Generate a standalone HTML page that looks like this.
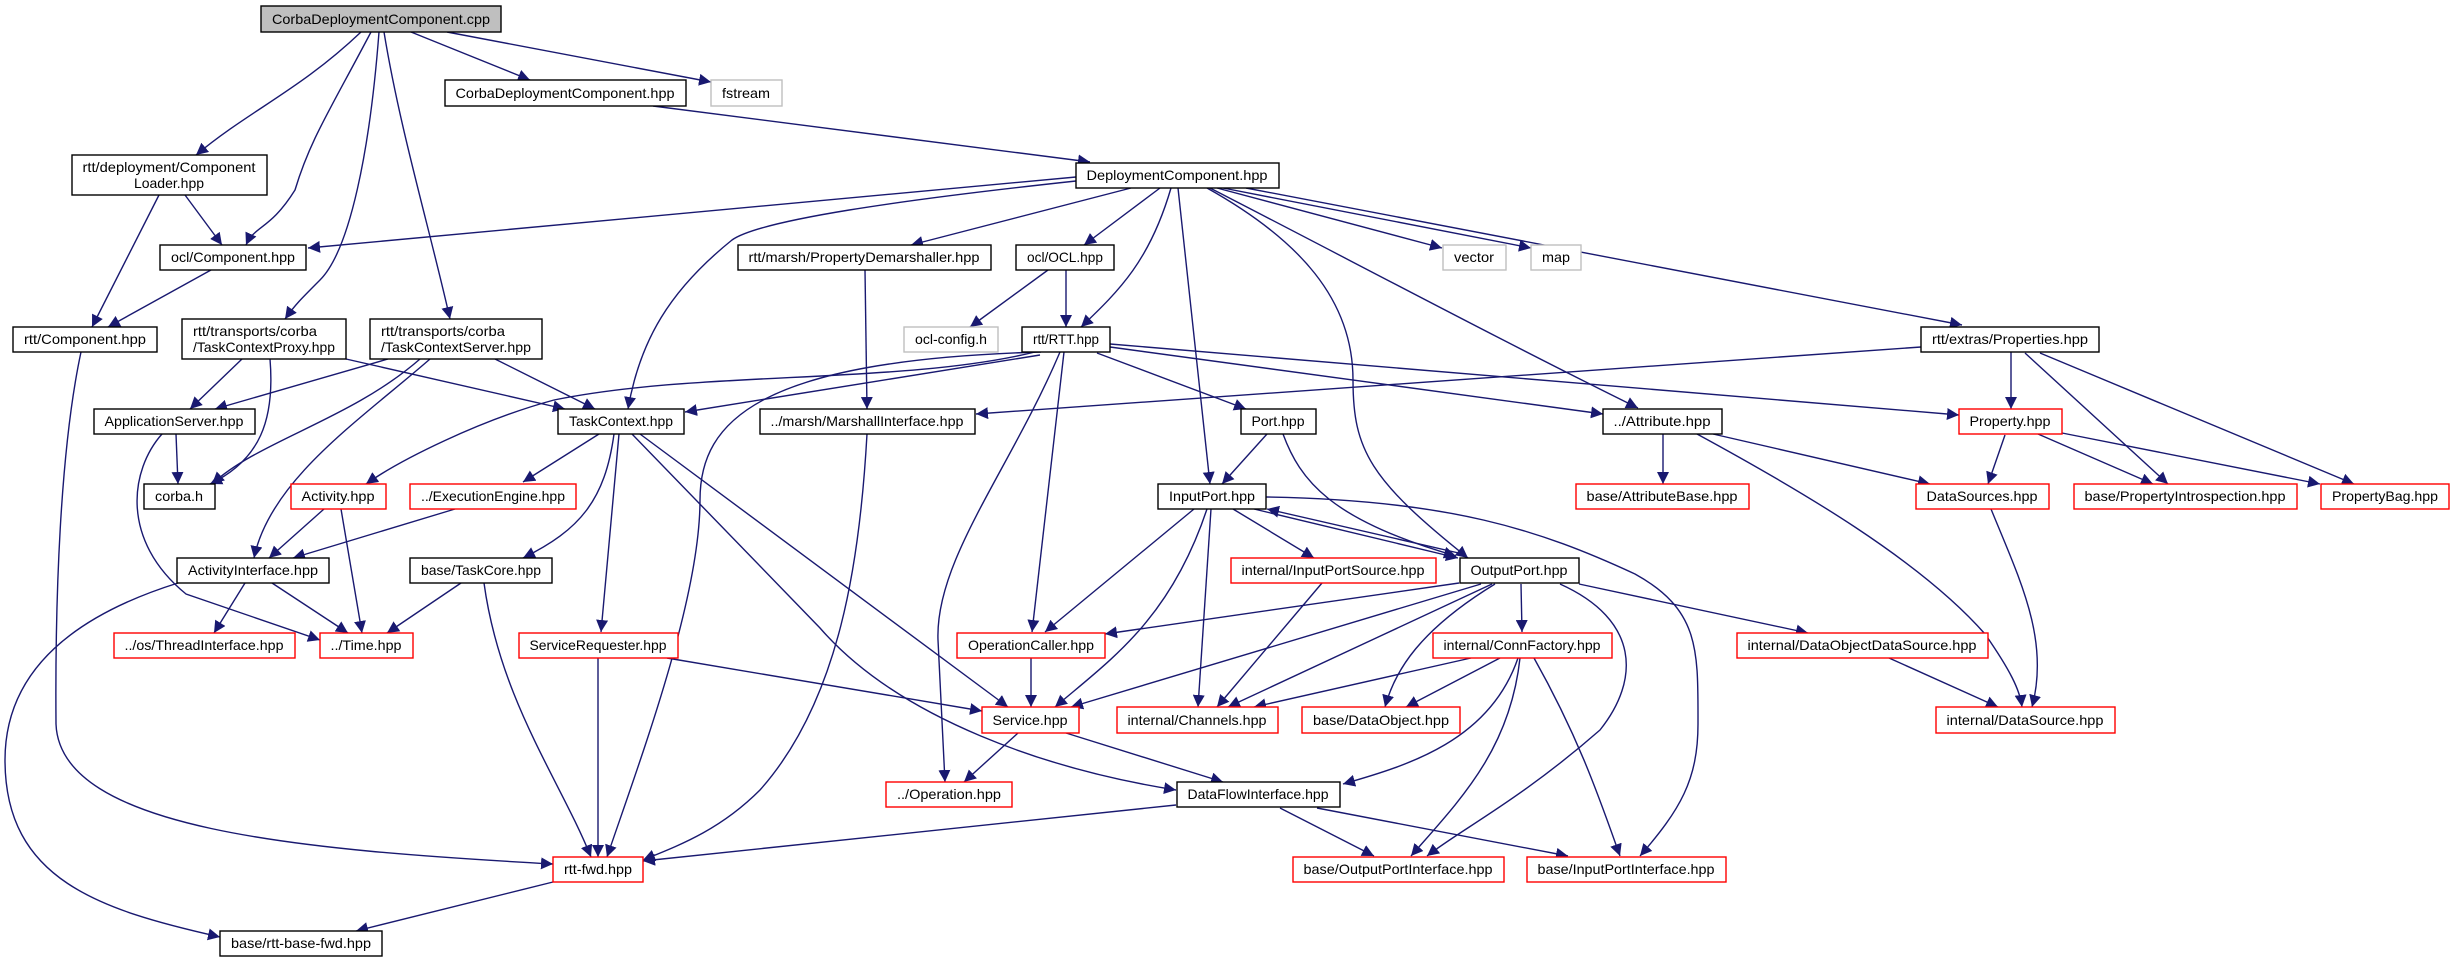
<!DOCTYPE html>
<html><head><meta charset="utf-8"><style>
html,body{margin:0;padding:0;background:#fff;}
svg{display:block;}
text{font-family:"Liberation Sans",sans-serif;font-size:14px;fill:#000;}
.e{fill:none;stroke:#191970;stroke-width:1.4;}
.n{fill:#fff;stroke:#000;stroke-width:1.4;}
.r{fill:#fff;stroke:#ff0000;stroke-width:1.4;}
.g{fill:#fff;stroke:#bfbfbf;stroke-width:1.4;}
</style></head><body>
<svg width="2455" height="963" viewBox="0 0 2455 963" xmlns="http://www.w3.org/2000/svg">
<defs><marker id="a" markerUnits="userSpaceOnUse" markerWidth="14" markerHeight="12" refX="12" refY="6" orient="auto"><path d="M0,0 L12,6 L0,12 Z" fill="#191970"/></marker></defs>
<g marker-end="url(#a)">
<!-- from cpp -->
<path class="e" d="M411,32 L530,80"/>
<path class="e" d="M447,32 L711,82"/>
<path class="e" d="M361,32 C300,90 250,110 196,155"/>
<path class="e" d="M371,32 C330,110 310,140 295,190 C270,230 255,225 246,245"/>
<path class="e" d="M379,32 C370,150 350,250 320,280 C300,300 295,305 285,319"/>
<path class="e" d="M384,32 C400,130 430,230 450,319"/>
<path class="e" d="M653,106 L1090,162"/>
<path class="e" d="M185,195 L222,245"/>
<path class="e" d="M159,195 L92,327"/>
<path class="e" d="M211,270 L108,327"/>
<path class="e" d="M81,352 C60,450 55,600 56,724 C60,830 300,850 553,864"/>
<path class="e" d="M242,359 L190,409"/>
<path class="e" d="M270,359 C275,420 260,460 210,484"/>
<path class="e" d="M346,359 L565,409"/>
<path class="e" d="M388,359 L215,409"/>
<path class="e" d="M420,359 C350,420 260,440 212,484"/>
<path class="e" d="M430,359 C360,420 270,480 254,558"/>
<path class="e" d="M495,359 L595,409"/>
<path class="e" d="M176,434 L178,484"/>
<path class="e" d="M162,434 C130,470 120,540 186,594 L320,640"/>
<!-- TaskContext -->
<path class="e" d="M599,434 L523,482"/>
<path class="e" d="M619,434 L601,632"/>
<path class="e" d="M614,434 C605,500 580,530 523,558"/>
<path class="e" d="M640,434 L1008,707"/>
<path class="e" d="M632,434 L820,628 C900,720 1050,770 1176,790"/>
<!-- DeploymentComponent -->
<path class="e" d="M1076,177 L308,248"/>
<path class="e" d="M1076,181 C900,200 760,220 732,240 C670,290 640,340 628,409"/>
<path class="e" d="M1131,188 L911,245"/>
<path class="e" d="M1160,188 L1084,245"/>
<path class="e" d="M1171,188 C1150,260 1120,290 1081,327"/>
<path class="e" d="M1178,188 L1210,484"/>
<path class="e" d="M1207,188 C1300,240 1353,300 1353,380 C1353,450 1370,480 1468,558"/>
<path class="e" d="M1217,188 L1442,248"/>
<path class="e" d="M1223,188 L1531,248"/>
<path class="e" d="M1210,188 C1350,260 1500,340 1638,408"/>
<path class="e" d="M1246,188 L1962,325"/>
<path class="e" d="M1048,270 L970,327"/>
<path class="e" d="M1066,270 L1066,327"/>
<path class="e" d="M865,270 L867,409"/>
<path class="e" d="M867,434 C860,560 840,700 760,790 C720,830 680,845 643,860"/>
<!-- RTT -->
<path class="e" d="M1041,352 C760,360 700,420 700,500 C700,600 640,760 607,857"/>
<path class="e" d="M1040,355 L685,412"/>
<path class="e" d="M1035,352 C900,385 700,370 554,400 C480,420 400,460 366,484"/>
<path class="e" d="M1060,352 C1010,470 935,560 938,640 L945,782"/>
<path class="e" d="M1064,352 L1032,632"/>
<path class="e" d="M1097,353 L1246,409"/>
<path class="e" d="M1110,347 L1603,414"/>
<path class="e" d="M1110,344 L1959,415"/>
<path class="e" d="M1267,434 L1222,484"/>
<path class="e" d="M1283,434 C1300,480 1330,520 1456,556"/>
<!-- Properties -->
<path class="e" d="M1921,347 L976,414"/>
<path class="e" d="M2011,352 L2011,409"/>
<path class="e" d="M2025,353 L2168,484"/>
<path class="e" d="M2040,353 L2354,484"/>
<path class="e" d="M2005,435 L1988,484"/>
<path class="e" d="M2038,434 L2153,484"/>
<path class="e" d="M2062,433 L2320,484"/>
<!-- Attribute -->
<path class="e" d="M1663,434 L1663,484"/>
<path class="e" d="M1713,434 L1930,484"/>
<path class="e" d="M1697,434 C1800,490 1920,560 1985,634 C2010,670 2020,690 2022,707"/>
<path class="e" d="M1991,509 C2020,580 2050,640 2032,707"/>
<!-- InputPort -->
<path class="e" d="M1254,509 L1458,558"/>
<path class="e" d="M1463,554 L1267,509"/>
<path class="e" d="M1194,509 L1045,632"/>
<path class="e" d="M1207,509 C1170,620 1110,660 1055,707"/>
<path class="e" d="M1211,509 L1198,707"/>
<path class="e" d="M1233,509 L1314,558"/>
<path class="e" d="M1266,497 C1450,500 1540,530 1635,574 C1700,610 1698,650 1698,724 C1698,780 1680,810 1640,856"/>
<path class="e" d="M1322,583 L1217,707"/>
<!-- OutputPort -->
<path class="e" d="M1459,583 L1105,634"/>
<path class="e" d="M1481,584 L1071,707"/>
<path class="e" d="M1492,584 L1228,707"/>
<path class="e" d="M1495,584 C1420,630 1395,670 1385,707"/>
<path class="e" d="M1521,584 L1522,632"/>
<path class="e" d="M1560,584 C1640,620 1640,680 1600,730 C1520,800 1460,830 1427,856"/>
<path class="e" d="M1579,584 L1808,633"/>
<!-- ConnFactory -->
<path class="e" d="M1471,658 L1254,707"/>
<path class="e" d="M1500,658 L1406,707"/>
<path class="e" d="M1518,658 C1490,740 1410,765 1343,784"/>
<path class="e" d="M1520,658 C1510,750 1460,800 1411,856"/>
<path class="e" d="M1534,658 C1580,740 1600,800 1620,856"/>
<path class="e" d="M1889,658 L1998,707"/>
<!-- misc -->
<path class="e" d="M1031,658 L1031,707"/>
<path class="e" d="M667,658 L982,711"/>
<path class="e" d="M598,658 L598,857"/>
<path class="e" d="M1018,733 L964,782"/>
<path class="e" d="M1066,733 L1223,782"/>
<path class="e" d="M1176,805 L643,861"/>
<path class="e" d="M1280,808 L1374,856"/>
<path class="e" d="M1317,808 L1568,856"/>
<path class="e" d="M461,583 L387,633"/>
<path class="e" d="M484,583 C500,700 560,780 591,857"/>
<path class="e" d="M324,509 L269,558"/>
<path class="e" d="M341,509 L362,633"/>
<path class="e" d="M455,509 L293,558"/>
<path class="e" d="M245,583 L214,633"/>
<path class="e" d="M272,583 L348,633"/>
<path class="e" d="M178,583 C60,620 5,680 5,760 C5,880 100,910 220,937"/>
<path class="e" d="M553,882 L356,931"/>
</g>
<!-- nodes -->
<g>
<rect x="261" y="6" width="240" height="26" fill="#bfbfbf" stroke="#000" stroke-width="1.4"/><text x="381" y="24" text-anchor="middle" textLength="218" lengthAdjust="spacingAndGlyphs">CorbaDeploymentComponent.cpp</text>
<rect class="n" x="445" y="80" width="241" height="26"/><text x="565" y="98" text-anchor="middle" textLength="219" lengthAdjust="spacingAndGlyphs">CorbaDeploymentComponent.hpp</text>
<rect class="g" x="711" y="80" width="71" height="26"/><text x="746" y="98" text-anchor="middle" textLength="48" lengthAdjust="spacingAndGlyphs">fstream</text>
<rect class="n" x="72" y="155" width="195" height="40"/><text x="169" y="172" text-anchor="middle" textLength="173" lengthAdjust="spacingAndGlyphs">rtt/deployment/Component</text><text x="169" y="188" text-anchor="middle">Loader.hpp</text>
<rect class="n" x="160" y="245" width="146" height="25"/><text x="233" y="262" text-anchor="middle" textLength="124" lengthAdjust="spacingAndGlyphs">ocl/Component.hpp</text>
<rect class="n" x="13" y="327" width="144" height="25"/><text x="85" y="344" text-anchor="middle" textLength="122" lengthAdjust="spacingAndGlyphs">rtt/Component.hpp</text>
<rect class="n" x="182" y="319" width="164" height="40"/><text x="193" y="336" textLength="124" lengthAdjust="spacingAndGlyphs">rtt/transports/corba</text><text x="193" y="352" textLength="142" lengthAdjust="spacingAndGlyphs">/TaskContextProxy.hpp</text>
<rect class="n" x="370" y="319" width="172" height="40"/><text x="381" y="336" textLength="124" lengthAdjust="spacingAndGlyphs">rtt/transports/corba</text><text x="381" y="352" textLength="150" lengthAdjust="spacingAndGlyphs">/TaskContextServer.hpp</text>
<rect class="n" x="94" y="409" width="161" height="25"/><text x="174" y="426" text-anchor="middle" textLength="139" lengthAdjust="spacingAndGlyphs">ApplicationServer.hpp</text>
<rect class="n" x="558" y="409" width="126" height="25"/><text x="621" y="426" text-anchor="middle" textLength="104" lengthAdjust="spacingAndGlyphs">TaskContext.hpp</text>
<rect class="n" x="738" y="245" width="253" height="25"/><text x="864" y="262" text-anchor="middle" textLength="231" lengthAdjust="spacingAndGlyphs">rtt/marsh/PropertyDemarshaller.hpp</text>
<rect class="n" x="760" y="409" width="215" height="25"/><text x="867" y="426" text-anchor="middle" textLength="193" lengthAdjust="spacingAndGlyphs">../marsh/MarshallInterface.hpp</text>
<rect class="n" x="1076" y="163" width="203" height="25"/><text x="1177" y="180" text-anchor="middle" textLength="181" lengthAdjust="spacingAndGlyphs">DeploymentComponent.hpp</text>
<rect class="n" x="1016" y="245" width="98" height="25"/><text x="1065" y="262" text-anchor="middle" textLength="76" lengthAdjust="spacingAndGlyphs">ocl/OCL.hpp</text>
<rect class="g" x="1443" y="245" width="63" height="25"/><text x="1474" y="262" text-anchor="middle" textLength="40" lengthAdjust="spacingAndGlyphs">vector</text>
<rect class="g" x="1531" y="245" width="50" height="25"/><text x="1556" y="262" text-anchor="middle" textLength="28" lengthAdjust="spacingAndGlyphs">map</text>
<rect class="g" x="904" y="327" width="94" height="25"/><text x="951" y="344" text-anchor="middle" textLength="72" lengthAdjust="spacingAndGlyphs">ocl-config.h</text>
<rect class="n" x="1022" y="327" width="88" height="25"/><text x="1066" y="344" text-anchor="middle" textLength="66" lengthAdjust="spacingAndGlyphs">rtt/RTT.hpp</text>
<rect class="n" x="1241" y="409" width="75" height="25"/><text x="1278" y="426" text-anchor="middle" textLength="53" lengthAdjust="spacingAndGlyphs">Port.hpp</text>
<rect class="n" x="1603" y="409" width="119" height="25"/><text x="1662" y="426" text-anchor="middle" textLength="97" lengthAdjust="spacingAndGlyphs">../Attribute.hpp</text>
<rect class="n" x="1921" y="327" width="178" height="25"/><text x="2010" y="344" text-anchor="middle" textLength="156" lengthAdjust="spacingAndGlyphs">rtt/extras/Properties.hpp</text>
<rect class="r" x="1959" y="409" width="103" height="25"/><text x="2010" y="426" text-anchor="middle" textLength="81" lengthAdjust="spacingAndGlyphs">Property.hpp</text>
<rect class="n" x="144" y="484" width="71" height="25"/><text x="179" y="501" text-anchor="middle" textLength="48" lengthAdjust="spacingAndGlyphs">corba.h</text>
<rect class="r" x="291" y="484" width="95" height="25"/><text x="338" y="501" text-anchor="middle" textLength="73" lengthAdjust="spacingAndGlyphs">Activity.hpp</text>
<rect class="r" x="410" y="484" width="166" height="25"/><text x="493" y="501" text-anchor="middle" textLength="144" lengthAdjust="spacingAndGlyphs">../ExecutionEngine.hpp</text>
<rect class="n" x="177" y="558" width="152" height="25"/><text x="253" y="575" text-anchor="middle" textLength="130" lengthAdjust="spacingAndGlyphs">ActivityInterface.hpp</text>
<rect class="n" x="410" y="558" width="142" height="25"/><text x="481" y="575" text-anchor="middle" textLength="120" lengthAdjust="spacingAndGlyphs">base/TaskCore.hpp</text>
<rect class="r" x="114" y="633" width="181" height="25"/><text x="204" y="650" text-anchor="middle" textLength="159" lengthAdjust="spacingAndGlyphs">../os/ThreadInterface.hpp</text>
<rect class="r" x="320" y="633" width="93" height="25"/><text x="366" y="650" text-anchor="middle" textLength="71" lengthAdjust="spacingAndGlyphs">../Time.hpp</text>
<rect class="r" x="519" y="633" width="159" height="25"/><text x="598" y="650" text-anchor="middle" textLength="137" lengthAdjust="spacingAndGlyphs">ServiceRequester.hpp</text>
<rect class="r" x="553" y="857" width="90" height="25"/><text x="598" y="874" text-anchor="middle" textLength="68" lengthAdjust="spacingAndGlyphs">rtt-fwd.hpp</text>
<rect class="n" x="220" y="931" width="162" height="25"/><text x="301" y="948" text-anchor="middle" textLength="140" lengthAdjust="spacingAndGlyphs">base/rtt-base-fwd.hpp</text>
<rect class="n" x="1158" y="484" width="108" height="25"/><text x="1212" y="501" text-anchor="middle" textLength="86" lengthAdjust="spacingAndGlyphs">InputPort.hpp</text>
<rect class="r" x="1576" y="484" width="173" height="25"/><text x="1662" y="501" text-anchor="middle" textLength="151" lengthAdjust="spacingAndGlyphs">base/AttributeBase.hpp</text>
<rect class="r" x="1231" y="558" width="205" height="25"/><text x="1333" y="575" text-anchor="middle" textLength="183" lengthAdjust="spacingAndGlyphs">internal/InputPortSource.hpp</text>
<rect class="n" x="1460" y="558" width="119" height="25"/><text x="1519" y="575" text-anchor="middle" textLength="97" lengthAdjust="spacingAndGlyphs">OutputPort.hpp</text>
<rect class="r" x="957" y="633" width="148" height="25"/><text x="1031" y="650" text-anchor="middle" textLength="126" lengthAdjust="spacingAndGlyphs">OperationCaller.hpp</text>
<rect class="r" x="1433" y="633" width="179" height="25"/><text x="1522" y="650" text-anchor="middle" textLength="157" lengthAdjust="spacingAndGlyphs">internal/ConnFactory.hpp</text>
<rect class="r" x="982" y="707" width="97" height="26"/><text x="1030" y="725" text-anchor="middle" textLength="75" lengthAdjust="spacingAndGlyphs">Service.hpp</text>
<rect class="r" x="1117" y="707" width="161" height="26"/><text x="1197" y="725" text-anchor="middle" textLength="139" lengthAdjust="spacingAndGlyphs">internal/Channels.hpp</text>
<rect class="r" x="1302" y="707" width="158" height="26"/><text x="1381" y="725" text-anchor="middle" textLength="136" lengthAdjust="spacingAndGlyphs">base/DataObject.hpp</text>
<rect class="r" x="886" y="782" width="126" height="25"/><text x="949" y="799" text-anchor="middle" textLength="104" lengthAdjust="spacingAndGlyphs">../Operation.hpp</text>
<rect class="n" x="1177" y="782" width="163" height="25"/><text x="1258" y="799" text-anchor="middle" textLength="141" lengthAdjust="spacingAndGlyphs">DataFlowInterface.hpp</text>
<rect class="r" x="1293" y="857" width="211" height="25"/><text x="1398" y="874" text-anchor="middle" textLength="189" lengthAdjust="spacingAndGlyphs">base/OutputPortInterface.hpp</text>
<rect class="r" x="1527" y="857" width="199" height="25"/><text x="1626" y="874" text-anchor="middle" textLength="177" lengthAdjust="spacingAndGlyphs">base/InputPortInterface.hpp</text>
<rect class="r" x="1916" y="484" width="133" height="25"/><text x="1982" y="501" text-anchor="middle" textLength="111" lengthAdjust="spacingAndGlyphs">DataSources.hpp</text>
<rect class="r" x="2074" y="484" width="223" height="25"/><text x="2185" y="501" text-anchor="middle" textLength="201" lengthAdjust="spacingAndGlyphs">base/PropertyIntrospection.hpp</text>
<rect class="r" x="2321" y="484" width="128" height="25"/><text x="2385" y="501" text-anchor="middle" textLength="106" lengthAdjust="spacingAndGlyphs">PropertyBag.hpp</text>
<rect class="r" x="1737" y="633" width="251" height="25"/><text x="1862" y="650" text-anchor="middle" textLength="229" lengthAdjust="spacingAndGlyphs">internal/DataObjectDataSource.hpp</text>
<rect class="r" x="1936" y="707" width="179" height="26"/><text x="2025" y="725" text-anchor="middle" textLength="157" lengthAdjust="spacingAndGlyphs">internal/DataSource.hpp</text>
</g>
</svg>
</body></html>
